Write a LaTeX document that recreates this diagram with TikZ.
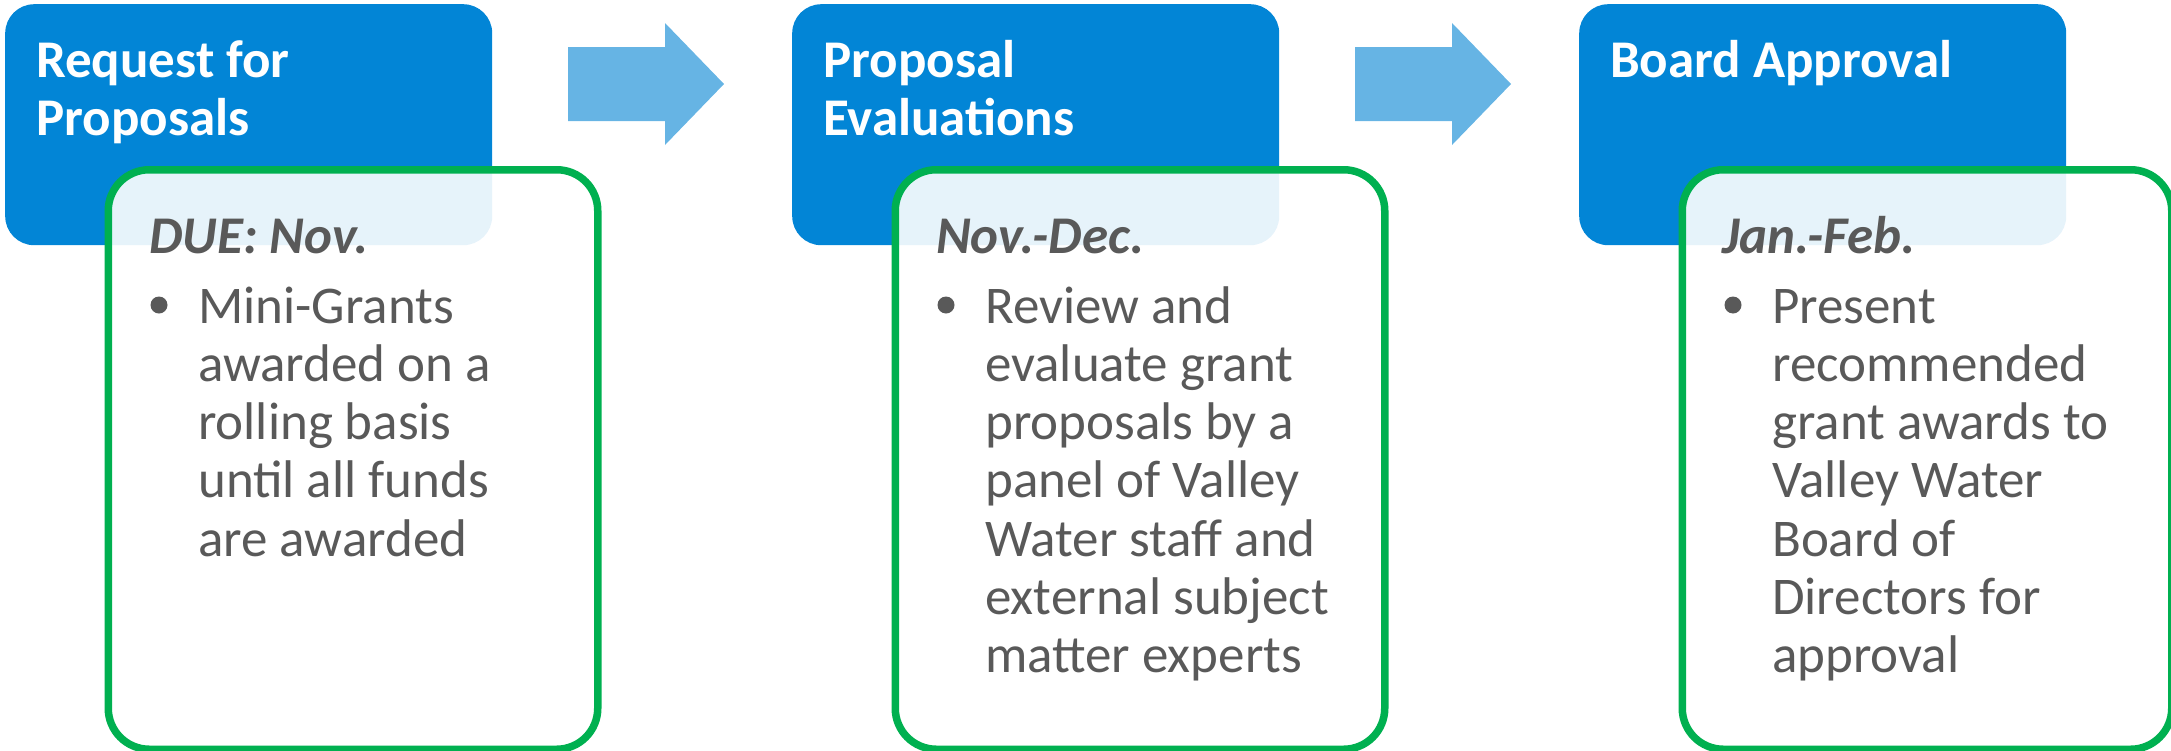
\documentclass[tikz,border=0pt]{standalone}
\usepackage{fontspec}
\setmainfont{Carlito}
\definecolor{bluebox}{RGB}{2,133,214}
\definecolor{arrowblue}{RGB}{102,180,228}
\definecolor{greenline}{RGB}{0,176,80}
\definecolor{textgray}{RGB}{89,89,89}
\tikzset{
 headbox/.style={fill=bluebox, rounded corners=29pt, inner sep=0pt, minimum width=487pt, minimum height=241pt, anchor=north west},
 detailbox/.style={draw=greenline, line width=7.5pt, fill=white, fill opacity=0.9, draw opacity=1, text opacity=1, rounded corners=41pt, minimum width=489.5pt, minimum height=579.5pt, anchor=north west, inner sep=0pt},
 headtext/.style={anchor=base west, text=white, font=\fontsize{53}{58}\selectfont\bfseries, align=left, inner sep=0pt},
 datetext/.style={anchor=base west, text=textgray, font=\fontsize{53}{58}\selectfont\bfseries\itshape, inner sep=0pt},
 bodytext/.style={anchor=base west, text=textgray, font=\fontsize{53}{58.3}\selectfont, align=left, inner sep=0pt},
 bulletdot/.style={circle, fill=textgray, inner sep=0pt, minimum size=17pt},
 flowarrow/.style={fill=arrowblue}
}
\begin{document}
\begin{tikzpicture}[x=1pt,y=-1pt]
\useasboundingbox (0,0) rectangle (2171,750);
% stage 1
\node[headbox] (b1) at (5,4) {};
\node[headtext] (h1) at (36,135) {Request for\\Proposals};
\node[detailbox] (g1) at (104.5,166) {};
\node[datetext] (d1) at (149,253) {DUE: Nov.};
\node[bulletdot] (p1) at (159,305) {};
\node[bodytext] (t1) at (198,556.2) {Mini-Grants\\awarded on a\\rolling basis\\until all funds\\are awarded};
% stage 2
\node[headbox] (b2) at (792,4) {};
\node[headtext] (h2) at (823,135) {Proposal\\Evaluations};
\node[detailbox] (g2) at (891.5,166) {};
\node[datetext] (d2) at (936,253) {Nov.-Dec.};
\node[bulletdot] (p2) at (946,305) {};
\node[bodytext] (t2) at (985,672.8) {Review and\\evaluate grant\\proposals by a\\panel of Valley\\Water staff and\\external subject\\matter experts};
% stage 3
\node[headbox] (b3) at (1579,4) {};
\node[headtext] (h3) at (1610,77) {Board Approval};
\node[detailbox] (g3) at (1678.5,166) {};
\node[datetext] (d3) at (1722,253) {Jan.-Feb.};
\node[bulletdot] (p3) at (1733,305) {};
\node[bodytext] (t3) at (1772,672.8) {Present\\recommended\\grant awards to\\Valley Water\\Board of\\Directors for\\approval};
% arrows
\fill[flowarrow] (568,47) -- (665,47) -- (665,23) -- (724,84) -- (665,145) -- (665,121) -- (568,121) -- cycle;
\fill[flowarrow] (1355,47) -- (1452,47) -- (1452,23) -- (1511,84) -- (1452,145) -- (1452,121) -- (1355,121) -- cycle;
\end{tikzpicture}
\end{document}
